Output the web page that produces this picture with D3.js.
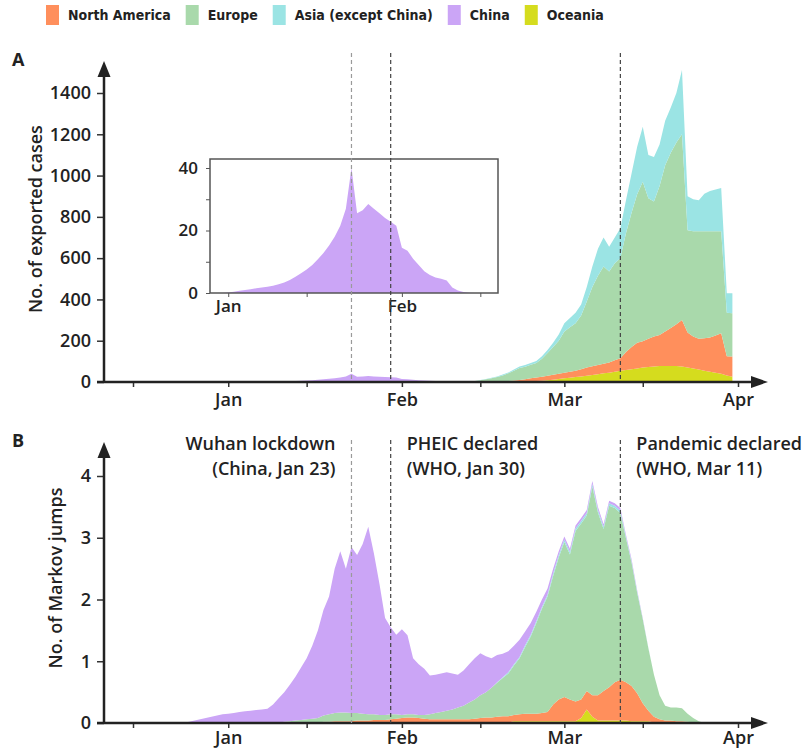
<!DOCTYPE html>
<html>
<head>
<meta charset="utf-8">
<script src="https://cdn.jsdelivr.net/npm/d3@7"></script>
<style>
body { margin: 0; background: #fff; }
svg text { font-family: 'Open Sans', sans-serif; font-weight: 600; fill: #222; }
</style>
</head>
<body>
<svg id="chart" width="804" height="748"></svg>
<script>

const zeros = n => Array(n).fill(0)

// regions, bottom of the stack first
const regions = ['oceania', 'northAmerica', 'europe', 'asia', 'china']
const legendOrder = ['northAmerica', 'europe', 'asia', 'china', 'oceania']
const regionNames = {northAmerica: 'North America', europe: 'Europe', asia: 'Asia (except China)', china: 'China', oceania: 'Oceania'}
const regionColors = {northAmerica: '#ff8f5c', europe: '#a9d9ab', asia: '#9be4e4', china: '#cba5f6', oceania: '#d5dc1e'}

// panel A: exported cases per day, Dec 31 .. Mar 31
const datesA = d3.timeDay.range(new Date(2019, 11, 31), new Date(2020, 3, 1))
const chinaA = [0,
    0.2,0.4,0.7,1.0,1.2,1.5,1.8,2.0,2.3,2.8, 3.4,4.2,5.2,6.3,7.5,9.0,10.8,12.8,15.2,18.0,
    21.5,27,40,25.5,26.5,28.5,27,25.5,24,22.8, 21.5,
    14.5,13.5,11,9,7,5.8,5,4.6,4.0,1.8,0.8,0.3,0.1].concat(zeros(47))
// the other regions start on Feb 10 (index 41)
const europeA = zeros(41).concat([0.5,1,2,3,5,9,13,18,22,29,37,47,58,61,65,70,87,110,135,160,
    200,215,230,260,320,384,433,472,440,470,485,575,650,720,772,680,655,722,805,848,880,900,495,510,520,518,515,505,494,210,210])
const asiaA = zeros(41).concat([0,0,0,0,0,1,1,2,3,4,4,6,7,8,9,10,12,15,20,30,
    40,45,50,53,70,100,130,140,120,125,145,160,190,230,267,210,215,200,215,220,240,311,165,155,150,182,195,202,210,95,97])
const northAmericaA = zeros(41).concat([0,0,0,0,0,0,0,0,2,3,5,7,10,11,15,17,20,22,24,25,
    27,29,31,35,40,42,44,46,50,55,60,87,108,124,128,137,145,151,167,184,203,225,170,155,150,157,165,180,196,93,97])
const oceaniaA = zeros(41).concat([0,0,0,0,0,0,0,0,0,0,0,0,0,2,3,5,6,8,11,15,
    18,21,24,27,30,34,38,42,45,50,55,58,62,66,70,73,75,77,78,78,77,75,70,65,60,55,50,45,40,32,26])

// panel B: Markov jumps per day, Dec 24 .. Mar 26
const datesB = d3.timeDay.range(new Date(2019, 11, 24), new Date(2020, 2, 27))
const chinaB = [0,0.02,0.04,0.06,0.08,0.1,0.12,0.14,
    0.15,0.16,0.18,0.19,0.2,0.21,0.22,0.23,0.3,
    0.39,0.48,0.59,0.71,0.85,0.99,1.18,1.42,1.71,1.91,2.34,2.61,2.33,2.69,2.56,2.75,3.04,2.61,2.12,1.57,1.41,1.29,
    1.39,1.28,0.91,0.82,0.75,0.63,0.62,0.62,0.62,0.58,0.53,0.57,0.62,0.67,0.68,0.58,0.48,0.44,0.38,0.34,0.30,0.28,0.22,0.19,0.15,0.12,0.10,0.08,0.06,
    0.05,0.05,0.05,0.05,0.05,0.05,0.05,0.04,0.04,0.04,0.04,0.03,0.03,0.02,0.01].concat(zeros(11))
const europeB = zeros(17).concat([
    0.01,0.02,0.03,0.04,0.05,0.06,0.07,0.08,0.1,0.12,0.13,0.14,0.14,0.13,0.12,0.11,0.1,0.09,0.08,0.08,0.08,0.07,
    0.05,0.05,0.05,0.05,0.06,0.08,0.1,0.12,0.14,0.16,0.19,0.22,0.27,0.31,0.37,0.41,0.48,0.55,0.62,0.69,0.8,0.91,1.08,1.25,1.47,1.69,1.87,2.08,2.30,
    2.51,2.35,2.76,2.85,2.84,3.38,2.96,2.62,2.94,2.82,2.7,2.33,2.0,1.63,1.36,1.01,0.68,0.39,0.24,0.21,0.22,0.21,0.13,0.07,0.03,0])
const northAmericaB = zeros(25).concat([
    0.02,0.02,0.03,0.03,0.03,0.03,0.04,0.04,0.04,0.05,0.05,0.05,0.06,0.07,
    0.07,0.08,0.08,0.07,0.06,0.05,0.05,0.05,0.05,0.05,0.05,0.05,0.05,0.06,0.07,0.08,0.08,0.09,0.1,0.1,0.1,0.11,0.12,0.12,0.12,0.13,0.15,0.27,0.35,
    0.39,0.35,0.32,0.30,0.30,0.35,0.41,0.48,0.54,0.62,0.66,0.62,0.57,0.45,0.29,0.17,0.09,0.05,0.03,0.03,0.03,0.03,0.02,0.01,0,0])
const oceaniaB = zeros(39).concat([
    0.01,0.01,0.01,0.01,0.01,0.01,0.01,0.01,0.01,0.01,0.01,0.01,0.01,0.01,0.01,0.01,0.01,0.01,0.01,0.01,
    0.03,0.03,0.03,0.03,0.03,0.03,0.03,0.03,0.03,
    0.03,0.03,0.03,0.08,0.22,0.1,0.04,0.04,0.04,0.04,0.04,0.04,0.03,0.03,0.03,0.03,0.01,0.01,0.01,0.01,0,0,0,0,0,0])
const asiaB = zeros(56).concat([
    0.01,0.01,0.02,0.02,0.02,0.03,0.03,0.03,0.03,0.03,0.04,0.04,
    0.04,0.04,0.04,0.04,0.04,0.04,0.04,0.04,0.04,0.04,0.04,0.03,0.02,0.02,0.01,0.01,0,0,0,0,0,0,0,0,0,0])

// ticks and events
const monthTicks = ['2019-12-15','2020-01-01','2020-01-15','2020-02-01','2020-02-15','2020-03-01','2020-03-15','2020-04-01']
const monthLabels = {'2020-01-01': 'Jan', '2020-02-01': 'Feb', '2020-03-01': 'Mar', '2020-04-01': 'Apr'}
const insetTicks = ['2020-01-01','2020-01-15','2020-02-01','2020-02-15']
const ticksA = [0, 200, 400, 600, 800, 1000, 1200, 1400]
const ticksB = [0, 1, 2, 3, 4]
const ticksInset = [0, 10, 20, 30, 40]
const events = [
    {date: '2020-01-23', color: '#9a9a9a', lines: ['Wuhan lockdown', '(China, Jan 23)'], anchor: 'end', dx: -16},
    {date: '2020-01-30', color: '#444', lines: ['PHEIC declared', '(WHO, Jan 30)'], anchor: 'start', dx: 16},
    {date: '2020-03-11', color: '#444', lines: ['Pandemic declared', '(WHO, Mar 11)'], anchor: 'start', dx: 16}
]

const parse = d3.timeParse('%Y-%m-%d')
const svg = d3.select('#chart')

const x = d3.scaleTime()
    .domain([new Date(2019, 11, 15), new Date(2020, 3, 1)])
    .range([133, 738])
const axisX = 104       // where the y axes sit
const arrowEnd = 768    // tip of the x axis arrow

function rows(dates, series) {
    return dates.map((d, i) => {
        let r = {date: d}
        regions.forEach(k => r[k] = series[k][i])
        return r
    })
}

function panel(opts) {
    const g = svg.append('g')
    const y = opts.y
    const stack = d3.stack().keys(regions)(opts.rows)
    const area = d3.area()
        .x(d => x(d.data.date))
        .y0(d => y(d[0]))
        .y1(d => y(d[1]))

    g.selectAll('path.layer')
        .data(stack)
        .join('path')
        .attr('class', 'layer')
        .attr('fill', d => regionColors[d.key])
        .attr('d', area)

    // y axis
    const ya = g.append('g')
        .attr('transform', `translate(${axisX},0)`)
        .call(d3.axisLeft(y).tickValues(opts.ticks).tickSize(7).tickPadding(6).tickFormat(d3.format('d')))
    ya.select('.domain').remove()
    ya.selectAll('text').style('font-size', '18px').attr('fill', '#222')
    ya.selectAll('line').attr('stroke', '#333').attr('stroke-width', 1.5)

    // x axis
    const base = y(0)
    const xa = g.append('g')
        .attr('transform', `translate(0,${base})`)
        .call(d3.axisBottom(x)
            .tickValues(monthTicks.map(parse))
            .tickSize(5)
            .tickPadding(opts.pad)
            .tickFormat(d => monthLabels[d3.timeFormat('%Y-%m-%d')(d)] || ''))
    xa.select('.domain').remove()
    xa.selectAll('text').style('font-size', '18px').attr('fill', '#222')
    xa.selectAll('line').attr('stroke', '#333').attr('stroke-width', 1.5)

    g.append('line')
        .attr('x1', axisX - 7).attr('x2', arrowEnd - 12)
        .attr('y1', base).attr('y2', base)
        .attr('stroke', '#222').attr('stroke-width', 2.5)
    g.append('line')
        .attr('x1', axisX).attr('x2', axisX)
        .attr('y1', base + 1).attr('y2', opts.top + 12)
        .attr('stroke', '#222').attr('stroke-width', 2.5)
    g.append('path')
        .attr('d', `M${arrowEnd},${base} L${arrowEnd - 17},${base - 6} L${arrowEnd - 17},${base + 6} Z`)
        .attr('fill', '#222')
    g.append('path')
        .attr('d', `M${axisX},${opts.top} L${axisX - 6.5},${opts.top + 16} L${axisX + 6.5},${opts.top + 16} Z`)
        .attr('fill', '#222')

    g.append('text')
        .attr('transform', `translate(${opts.titleX},${opts.titleY}) rotate(-90)`)
        .attr('text-anchor', 'middle')
        .style('font-size', '18px')
        .text(opts.title)

    g.append('text')
        .attr('x', 12).attr('y', opts.top + 5)
        .style('font-size', '18px').style('font-weight', 700)
        .text(opts.letter)

    return g
}

// ---- panel A
const yA = d3.scaleLinear().domain([0, 1400]).range([382, 93])
const gA = panel({
    rows: rows(datesA, {china: chinaA, europe: europeA, asia: asiaA, northAmerica: northAmericaA, oceania: oceaniaA}),
    y: yA, ticks: ticksA, top: 61, pad: 6,
    title: 'No. of exported cases', titleX: 42, titleY: 219, letter: 'A'
})

// inset: China only, zoomed
const inset = {left: 210, right: 498, top: 159}
const yIn = d3.scaleLinear().domain([0, 40]).range([293, 168])
const gI = svg.append('g')
gI.append('rect')
    .attr('x', inset.left).attr('y', inset.top)
    .attr('width', inset.right - inset.left).attr('height', yIn(0) - inset.top)
    .attr('fill', '#fff')
svg.append('clipPath').attr('id', 'insetClip')
    .append('rect')
    .attr('x', inset.left).attr('y', inset.top)
    .attr('width', inset.right - inset.left).attr('height', yIn(0) - inset.top)
gI.append('path')
    .attr('clip-path', 'url(#insetClip)')
    .attr('fill', regionColors.china)
    .attr('d', d3.area()
        .x((d, i) => x(datesA[i]))
        .y0(yIn(0))
        .y1(d => yIn(d))(chinaA))
gI.append('rect')
    .attr('x', inset.left).attr('y', inset.top)
    .attr('width', inset.right - inset.left).attr('height', yIn(0) - inset.top)
    .attr('fill', 'none').attr('stroke', '#555').attr('stroke-width', 1.5)
const iya = gI.append('g')
    .attr('transform', `translate(${inset.left},0)`)
    .call(d3.axisLeft(yIn).tickValues(ticksInset).tickSize(4).tickPadding(8)
        .tickFormat(d => d % 20 === 0 ? d : ''))
iya.select('.domain').remove()
iya.selectAll('text').style('font-size', '17px').attr('fill', '#222')
iya.selectAll('line').attr('stroke', '#555')
const ixa = gI.append('g')
    .attr('transform', `translate(0,${yIn(0)})`)
    .call(d3.axisBottom(x).tickValues(insetTicks.map(parse)).tickSize(4).tickPadding(3)
        .tickFormat(d => monthLabels[d3.timeFormat('%Y-%m-%d')(d)] || ''))
ixa.select('.domain').remove()
ixa.selectAll('text').style('font-size', '17px').attr('fill', '#222')
ixa.selectAll('line').attr('stroke', '#555')

// ---- panel B
const yB = d3.scaleLinear().domain([0, 4]).range([723, 476])
const gB = panel({
    rows: rows(datesB, {china: chinaB, europe: europeB, asia: asiaB, northAmerica: northAmericaB, oceania: oceaniaB}),
    y: yB, ticks: ticksB, top: 442, pad: 3,
    title: 'No. of Markov jumps', titleX: 62, titleY: 578, letter: 'B'
})

// event lines
function eventLines(top, bottom) {
    svg.append('g').selectAll('line')
        .data(events)
        .join('line')
        .attr('x1', d => x(parse(d.date))).attr('x2', d => x(parse(d.date)))
        .attr('y1', top).attr('y2', bottom)
        .attr('stroke', d => d.color)
        .attr('stroke-width', 1.2)
        .attr('stroke-dasharray', '4,3')
}
eventLines(53, yA(0))
eventLines(440, yB(0))

// annotations in panel B, one text per line, spaced so the boxes don't touch
const notes = svg.append('g')
events.forEach(ev => {
    ev.lines.forEach((s, i) => notes.append('text')
        .attr('x', x(parse(ev.date)) + ev.dx)
        .attr('y', 450 + i * 25)
        .attr('text-anchor', ev.anchor)
        .style('font-size', '18px')
        .text(s))
})

// legend
const legend = svg.append('g')
let lx = 46
legendOrder.forEach(k => {
    legend.append('rect')
        .attr('x', lx).attr('y', 5)
        .attr('width', 13).attr('height', 20)
        .attr('fill', regionColors[k])
    const t = legend.append('text')
        .attr('x', lx + 22).attr('y', 20)
        .style('font-family', "'Liberation Sans Narrow', 'DejaVu Sans Condensed', sans-serif")
        .style('font-weight', 700)
        .style('font-size', '14px')
        .text(regionNames[k])
    lx += 22 + t.node().getComputedTextLength() + 15
})

</script>
</body>
</html>
